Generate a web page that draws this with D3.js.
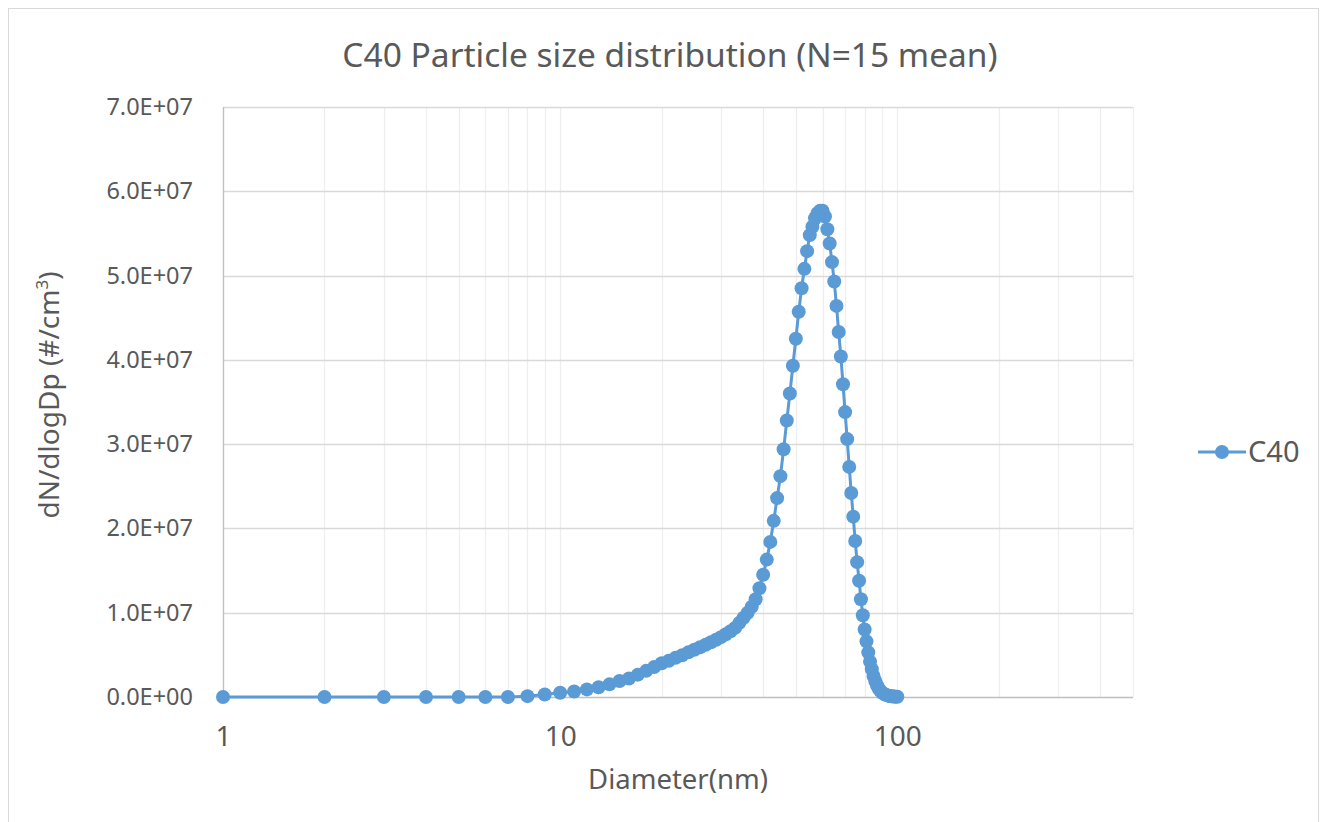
<!DOCTYPE html>
<html>
<head>
<meta charset="utf-8">
<script src="https://cdn.jsdelivr.net/npm/d3@7"></script>
<style>
  body { margin: 0; background: #fff; }
  text { font-family: "Noto Sans", "DejaVu Sans", sans-serif; fill: #595959; }
</style>
</head>
<body>
<script>
// chart data
const diameters = [
  1, 2, 3, 4, 5, 6, 7, 8, 9, 10,
  11, 12, 13, 14, 15, 16, 17, 18, 19, 20,
  21, 22, 23, 24, 25, 26, 27, 28, 29, 30,
  31, 32, 33, 34, 35, 36, 37, 38, 39, 40,
  41, 42, 43, 44, 45, 46, 47, 48, 49, 50,
  51, 52, 53, 54, 55, 56, 57, 58, 59, 60,
  61, 62, 63, 64, 65, 66, 67, 68, 69, 70,
  71, 72, 73, 74, 75, 76, 77, 78, 79, 80,
  81, 82, 83, 84, 85, 86, 87, 88, 89, 90,
  91, 92, 93, 94, 95, 96, 97, 98, 99, 100
];
const c40Values = [
  0, 0, 0, 0, 0, 0, 0, 0.01e7, 0.03e7, 0.05e7,
  0.065e7, 0.09e7, 0.115e7, 0.15e7, 0.19e7, 0.22e7, 0.265e7, 0.31e7, 0.355e7, 0.40e7,
  0.43e7, 0.465e7, 0.495e7, 0.53e7, 0.56e7, 0.59e7, 0.62e7, 0.65e7, 0.68e7, 0.71e7,
  0.745e7, 0.78e7, 0.82e7, 0.88e7, 0.94e7, 1.00e7, 1.07e7, 1.16e7, 1.29e7, 1.45e7,
  1.63e7, 1.84e7, 2.09e7, 2.36e7, 2.62e7, 2.94e7, 3.28e7, 3.60e7, 3.93e7, 4.25e7,
  4.57e7, 4.85e7, 5.08e7, 5.29e7, 5.48e7, 5.58e7, 5.68e7, 5.74e7, 5.77e7, 5.77e7,
  5.70e7, 5.55e7, 5.38e7, 5.16e7, 4.93e7, 4.64e7, 4.33e7, 4.04e7, 3.71e7, 3.38e7,
  3.06e7, 2.73e7, 2.42e7, 2.14e7, 1.85e7, 1.60e7, 1.38e7, 1.16e7, 0.97e7, 0.80e7,
  0.66e7, 0.53e7, 0.42e7, 0.33e7, 0.25e7, 0.19e7, 0.14e7, 0.10e7, 0.075e7, 0.055e7,
  0.04e7, 0.03e7, 0.022e7, 0.016e7, 0.012e7, 0.009e7, 0.007e7, 0.005e7, 0.004e7, 0.003e7
];
const seriesName = "C40";
const xTickLabels = [1, 10, 100];
const xGridValues = [1, 2, 3, 4, 5, 6, 7, 8, 9, 10, 20, 30, 40, 50, 60, 70, 80, 90, 100, 200, 300, 400, 500];
const yTickValues = [0, 1e7, 2e7, 3e7, 4e7, 5e7, 6e7, 7e7];
const xDomain = [1, 500];
const yDomain = [0, 7e7];

const W = 1322, H = 822;
const PLOT = { left: 223, right: 1133, top: 107, bottom: 697 };
const COLOR = "#5B9BD5";

const svg = d3.select("body").append("svg")
    .attr("width", W)
    .attr("height", H);

// outer chart border
svg.append("rect")
    .attr("x", 8.5).attr("y", 8.5)
    .attr("width", 1310).attr("height", 830)
    .attr("fill", "none")
    .attr("stroke", "#d9d9d9");

const x = d3.scaleLog().domain(xDomain).range([PLOT.left, PLOT.right]);
const y = d3.scaleLinear().domain(yDomain).range([PLOT.bottom, PLOT.top]);

// vertical grid (log minor + major)
svg.append("g")
    .selectAll("line")
    .data(xGridValues)
    .join("line")
        .attr("x1", d => Math.round(x(d)) + 0.5)
        .attr("x2", d => Math.round(x(d)) + 0.5)
        .attr("y1", PLOT.top)
        .attr("y2", PLOT.bottom)
        .attr("stroke", "#eeeeee")
        .attr("stroke-width", 1.3);

// horizontal grid
svg.append("g")
    .selectAll("line")
    .data(yTickValues.slice(1))
    .join("line")
        .attr("x1", PLOT.left)
        .attr("x2", PLOT.right)
        .attr("y1", d => Math.round(y(d)) + 0.5)
        .attr("y2", d => Math.round(y(d)) + 0.5)
        .attr("stroke", "#d9d9d9")
        .attr("stroke-width", 1.3);

// axis lines
svg.append("line")
    .attr("x1", PLOT.left + 0.5).attr("x2", PLOT.left + 0.5)
    .attr("y1", PLOT.top).attr("y2", PLOT.bottom)
    .attr("stroke", "#bfbfbf").attr("stroke-width", 1.3);
svg.append("line")
    .attr("x1", PLOT.left).attr("x2", PLOT.right)
    .attr("y1", PLOT.bottom + 0.5).attr("y2", PLOT.bottom + 0.5)
    .attr("stroke", "#bfbfbf").attr("stroke-width", 1.3);

// y axis labels
const yAxis = d3.axisLeft(y)
    .tickValues(yTickValues)
    .tickSize(0)
    .tickPadding(30)
    .tickFormat(d => {
        const e = d === 0 ? 0 : Math.floor(Math.log10(d));
        const m = d / Math.pow(10, e);
        return `${m.toFixed(1)}E+${String(e).padStart(2, "0")}`;
    });
svg.append("g")
    .attr("transform", `translate(${PLOT.left},0)`)
    .call(yAxis)
    .call(g => g.select(".domain").remove())
    .call(g => g.selectAll("text")
        .attr("font-family", null)
        .style("font-size", "23.5px")
        .attr("fill", "#595959"));

// x axis labels
const xAxis = d3.axisBottom(x)
    .tickValues(xTickLabels)
    .tickSize(0)
    .tickPadding(29)
    .tickFormat(d3.format("d"));
svg.append("g")
    .attr("transform", `translate(0,${PLOT.bottom})`)
    .call(xAxis)
    .call(g => g.select(".domain").remove())
    .call(g => g.selectAll("text")
        .attr("font-family", null)
        .style("font-size", "28px")
        .attr("fill", "#595959"));

// title
svg.append("text")
    .attr("x", 670)
    .attr("y", 67)
    .attr("text-anchor", "middle")
    .style("font-size", "33.5px")
    .text("C40 Particle size distribution (N=15 mean)");

// axis titles
svg.append("text")
    .attr("x", 678)
    .attr("y", 789)
    .attr("text-anchor", "middle")
    .style("font-size", "27.5px")
    .text("Diameter(nm)");

const yTitle = svg.append("text")
    .attr("transform", "translate(59,395) rotate(-90)")
    .attr("text-anchor", "middle")
    .style("font-size", "28px");
yTitle.append("tspan").text("dN/dlogDp (#/cm");
yTitle.append("tspan").attr("baseline-shift", "super").style("font-size", "17px").text("3");
yTitle.append("tspan").text(")");

// series line + markers
const points = diameters.map((d, i) => [d, c40Values[i]]);

svg.append("path")
    .datum(points)
    .attr("fill", "none")
    .attr("stroke", COLOR)
    .attr("stroke-width", 3)
    .attr("stroke-linejoin", "round")
    .attr("d", d3.line().x(d => x(d[0])).y(d => y(d[1])));

svg.append("g")
    .selectAll("circle")
    .data(points)
    .join("circle")
        .attr("cx", d => x(d[0]))
        .attr("cy", d => y(d[1]))
        .attr("r", 7)
        .attr("fill", COLOR);

// legend
const legend = svg.append("g").attr("transform", "translate(1198,452)");
legend.append("line")
    .attr("x1", 0).attr("x2", 48)
    .attr("stroke", COLOR).attr("stroke-width", 3);
legend.append("circle")
    .attr("cx", 24).attr("r", 7).attr("fill", COLOR);
legend.append("text")
    .attr("x", 50).attr("y", 10)
    .style("font-size", "29px")
    .text(seriesName);
</script>
</body>
</html>
